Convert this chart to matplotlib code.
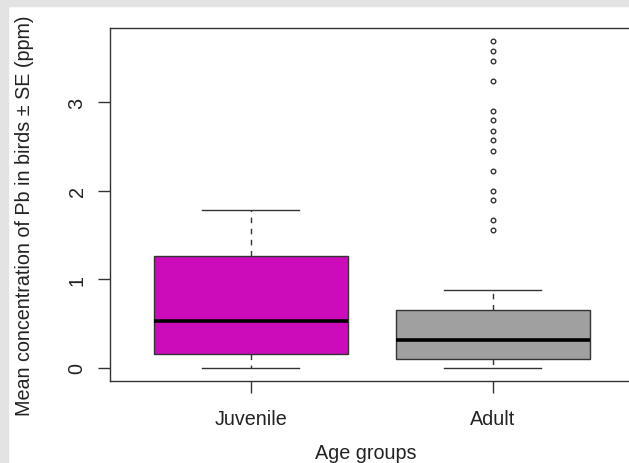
import matplotlib
matplotlib.use('Agg')
import matplotlib.pyplot as plt
from matplotlib.patches import Rectangle

# Pb concentration summaries per age group (ppm)
groups = ['Juvenile', 'Adult']
box_colors = ['#CC0CBA', '#A0A0A0']
q1 = [0.159, 0.095]
medians = [0.527, 0.309]
q3 = [1.261, 0.652]
whisker_low = [0.0, 0.0]
whisker_high = [1.778, 0.877]
outliers_juvenile = []
outliers_adult = [3.686, 3.574, 3.468, 3.234, 2.896, 2.795, 2.670, 2.571,
                  2.452, 2.221, 1.996, 1.898, 1.673, 1.555]
y_ticks = [0, 1, 2, 3]

plt.rcParams['font.family'] = ['Liberation Sans', 'DejaVu Sans']

W, H = 629, 464
fig = plt.figure(figsize=(W / 100, H / 100), dpi=100)
fig.patch.set_facecolor('white')

# light grey frame along top and left edges
fig.patches.append(Rectangle((0, 1 - 7 / H), 1, 7 / H, transform=fig.transFigure,
                             color='#E3E3E3', zorder=-1))
fig.patches.append(Rectangle((0, 0), 8 / W, 1, transform=fig.transFigure,
                             color='#E3E3E3', zorder=-1))

left, right, top, bottom = 110, 633.5, 29.3, 381.7
ax = fig.add_axes([left / W, 1 - bottom / H, (right - left) / W, (bottom - top) / H])

stats = []
fliers = [outliers_juvenile, outliers_adult]
for i in range(len(groups)):
    stats.append({'label': groups[i], 'q1': q1[i], 'med': medians[i], 'q3': q3[i],
                  'whislo': whisker_low[i], 'whishi': whisker_high[i],
                  'fliers': fliers[i]})

line_col = '#333333'
bp = ax.bxp(stats, positions=[1, 2], widths=0.8, patch_artist=True,
            boxprops=dict(edgecolor=line_col, linewidth=1.0),
            medianprops=dict(color='black', linewidth=2.6, solid_capstyle='butt'),
            whiskerprops=dict(color=line_col, linewidth=1.0, linestyle=(0, (4, 4))),
            capprops=dict(color=line_col, linewidth=1.0),
            capwidths=0.4,
            flierprops=dict(marker='o', markersize=3.3, markerfacecolor='none',
                            markeredgecolor=line_col, markeredgewidth=1.0))
for patch, c in zip(bp['boxes'], box_colors):
    patch.set_facecolor(c)

ymax = max(outliers_adult)
pad = 0.04 * ymax
ax.set_ylim(-pad, ymax + pad)
ax.set_xlim(0.42, 2.58)
ax.set_yticks(y_ticks)
ax.set_yticklabels([str(t) for t in y_ticks], rotation=90, va='center')
ax.set_xticks([1, 2])
ax.set_xticklabels(groups)

for s in ax.spines.values():
    s.set_color(line_col)
    s.set_linewidth(1.0)
ax.tick_params(axis='both', length=8.4, width=1.0, color=line_col, labelsize=14.2,
               labelcolor='#222222')
ax.tick_params(axis='y', pad=8.5)
ax.tick_params(axis='x', pad=12)

ax.set_xlabel('Age groups', fontsize=14.2, color='#222222', va='baseline')
ax.xaxis.set_label_coords((365.5 - left) / (right - left), (bottom - 459) / (bottom - top))
ax.set_ylabel('Mean concentration of Pb in birds \u00b1 SE (ppm)', fontsize=14.2,
              color='#222222', va='center')
ax.yaxis.set_label_coords((25 - left) / (right - left), (bottom - 216) / (bottom - top))

fig.savefig('out.png', dpi=100)
